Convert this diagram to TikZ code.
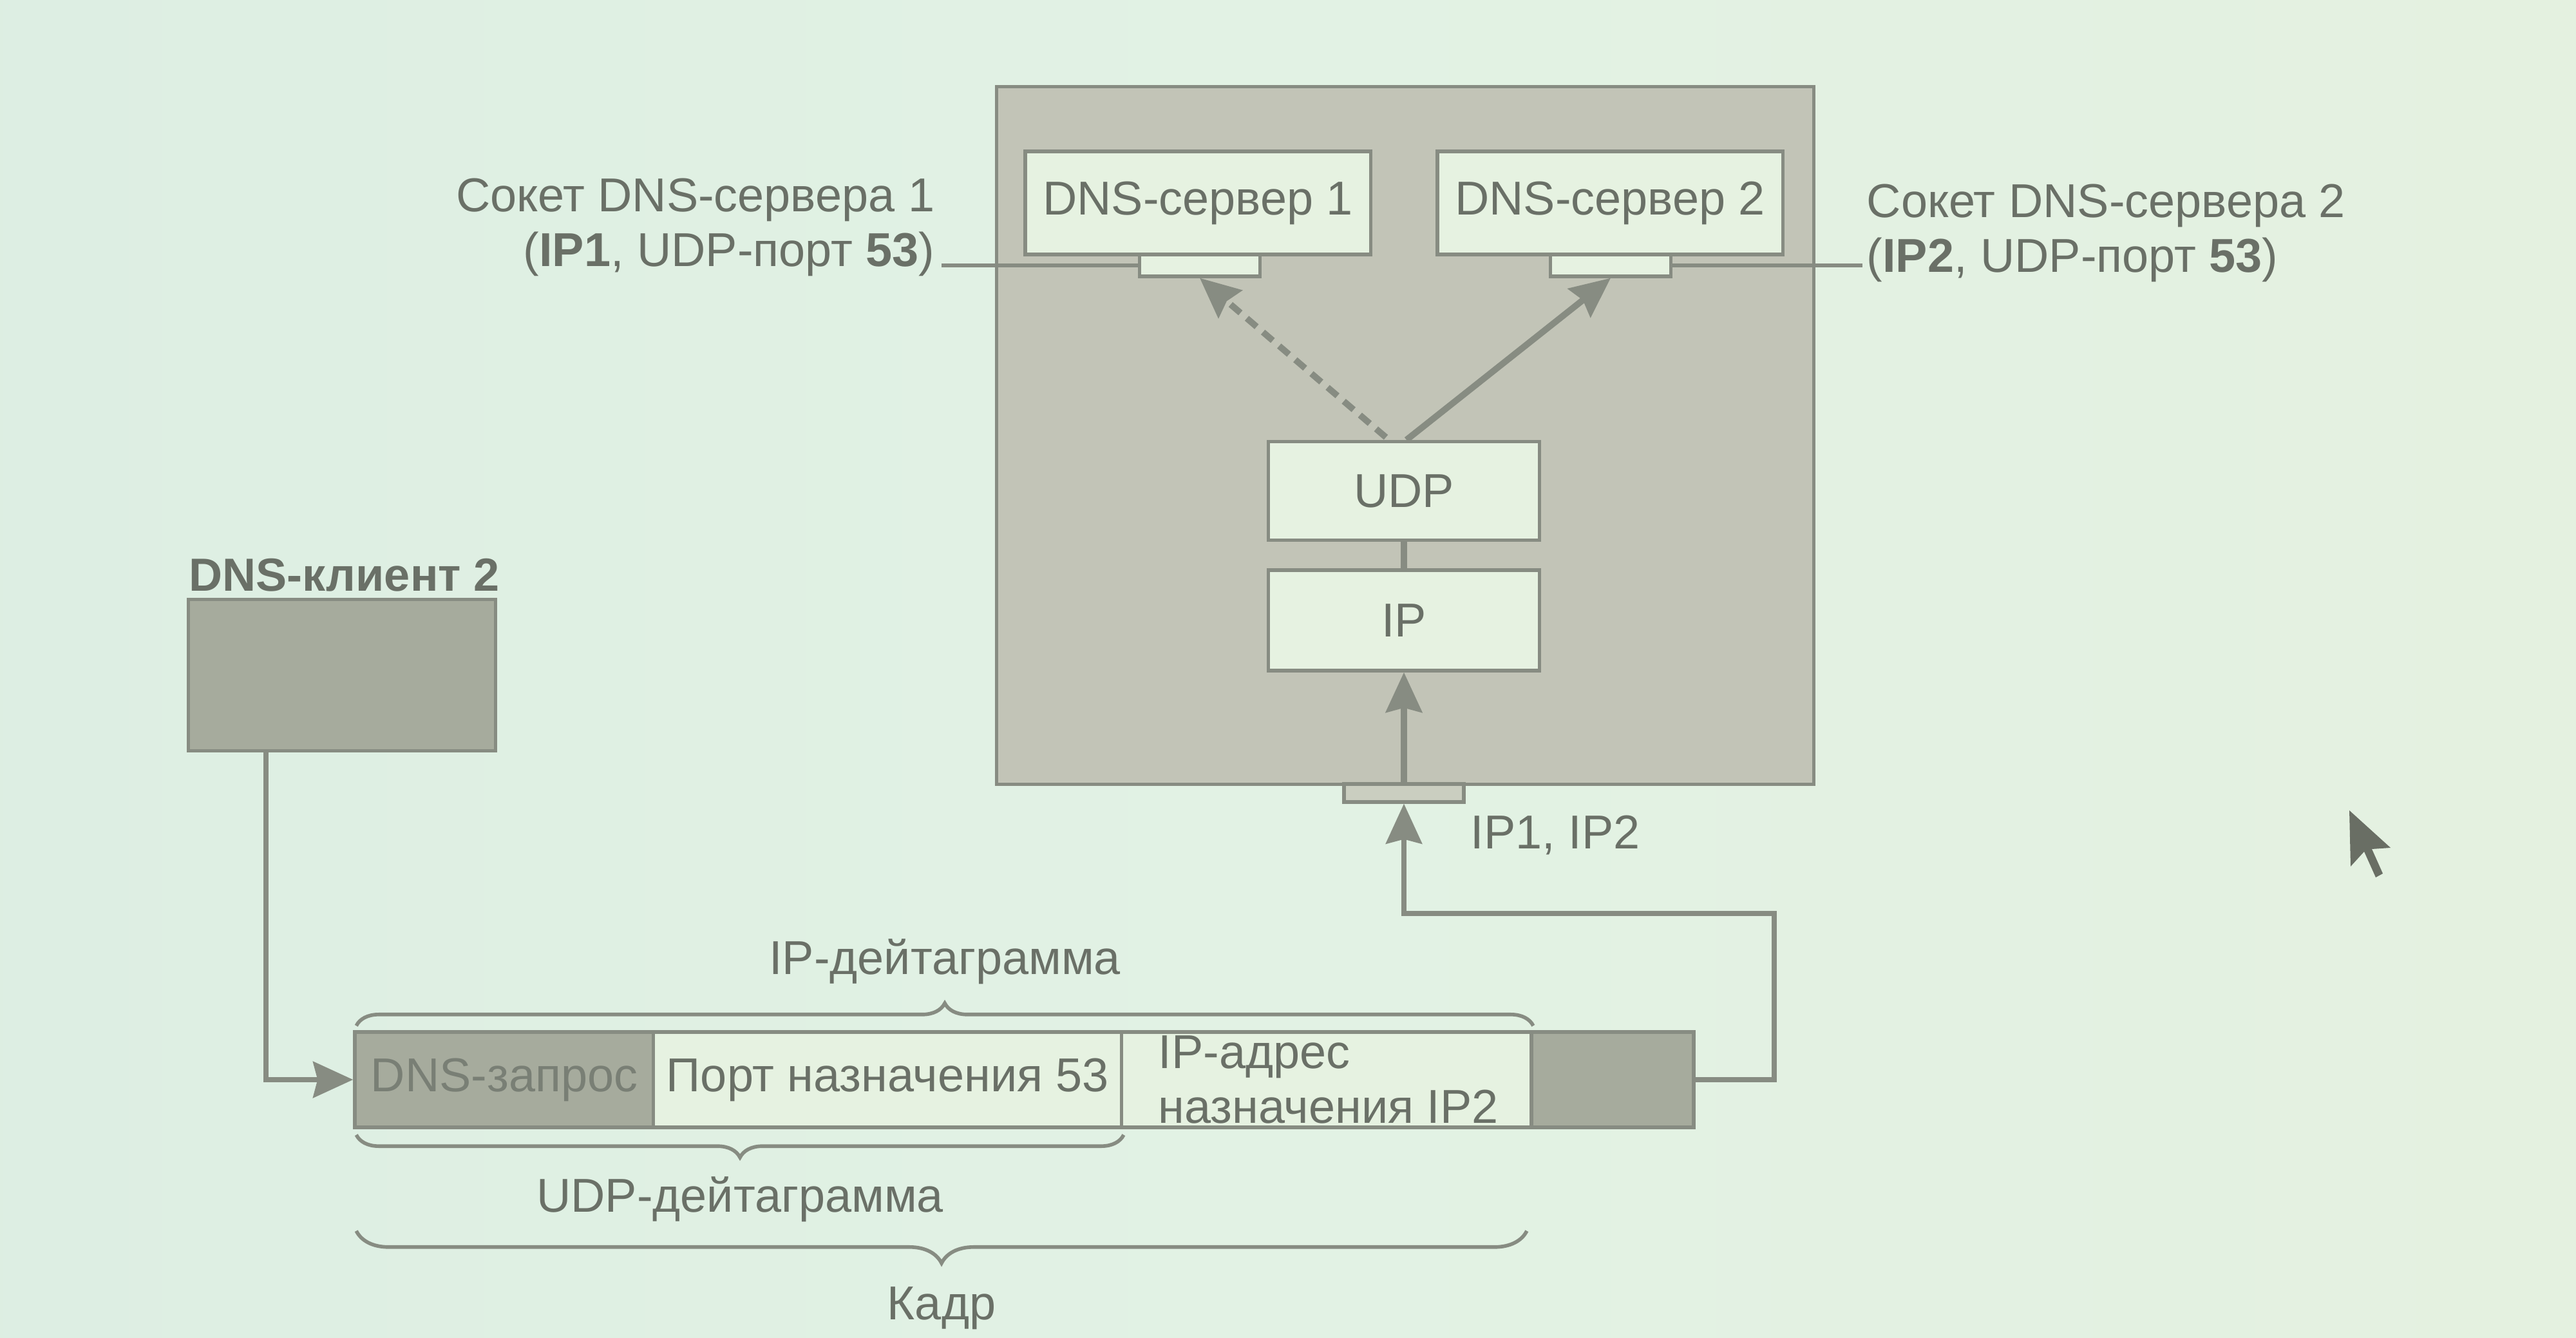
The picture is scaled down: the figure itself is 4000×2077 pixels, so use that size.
\documentclass[tikz,border=0pt]{standalone}
\usepackage{fontspec}
\setmainfont{Liberation Sans}
\usetikzlibrary{arrows.meta,decorations.pathreplacing}
\definecolor{bgl}{RGB}{216,234,225}
\definecolor{bgm}{RGB}{226,242,228}
\definecolor{bgr}{RGB}{230,239,220}
\definecolor{srvgray}{RGB}{194,196,183}
\definecolor{dkgray}{RGB}{166,171,157}
\definecolor{boxfill}{RGB}{230,242,225}
\definecolor{linec}{RGB}{135,140,130}
\definecolor{txtc}{RGB}{106,112,103}
\definecolor{portfill}{RGB}{202,206,192}
\definecolor{cursorc}{RGB}{105,110,100}
\pgfdeclarehorizontalshading{bgshade}{100bp}{color(0bp)=(bgl); color(50bp)=(bgm); color(100bp)=(bgr)}
\begin{document}
\begin{tikzpicture}[x=0.01cm,y=-0.01cm,
  every node/.style={font=\fontsize{21}{24}\selectfont, text=txtc},
  box/.style={draw=linec, line width=1.5pt, fill=boxfill, inner sep=0pt},
  darkbox/.style={draw=linec, line width=1.5pt, fill=dkgray, inner sep=0pt},
  tip/.style={-{Stealth[length=0.62cm,width=0.56cm,inset=0.07cm]}},
  arr/.style={draw=linec, line width=2.8pt, tip},
  conn/.style={draw=linec, line width=1.6pt},
  brc/.style={decorate, decoration={brace, amplitude=0.35cm}, draw=linec, line width=1.6pt},
  lbl/.style={inner sep=0pt}
]
\useasboundingbox (0,0) rectangle (4000,2077);
\shade[shading=bgshade] (0,0) rectangle (4000,2077);

% server host
\node[draw=linec, line width=1.5pt, fill=srvgray, minimum width=12.68cm, minimum height=10.82cm, inner sep=0pt] (srv) at (2182,676) {};
\node[box, minimum width=5.36cm, minimum height=1.6cm] (dns1) at (1860,315) {DNS-сервер 1};
\node[box, minimum width=5.36cm, minimum height=1.6cm] (dns2) at (2500,315) {DNS-сервер 2};
\node[box, minimum width=1.87cm, minimum height=0.34cm] (sock1) at (1863,412) {};
\node[box, minimum width=1.87cm, minimum height=0.34cm] (sock2) at (2501,412) {};
\node[box, minimum width=4.21cm, minimum height=1.53cm] (udp) at (2180,762) {UDP};
\node[box, minimum width=4.21cm, minimum height=1.56cm] (ip) at (2180,963) {IP};
\node[draw=linec, line width=1.5pt, fill=portfill, minimum width=1.86cm, minimum height=0.28cm, inner sep=0pt] (port) at (2180,1231) {};

% socket labels
\node[lbl, align=right, anchor=east] (lab1) at (1452,353) {Сокет DNS-сервера 1\\(\textbf{IP1}, UDP-порт \textbf{53})};
\node[lbl, align=left, anchor=west] (lab2) at (2898,362) {Сокет DNS-сервера 2\\(\textbf{IP2}, UDP-порт \textbf{53})};
\draw[conn] ([xshift=0.1cm]lab1.east |- sock1.west) -- (sock1.west);
\draw[conn] (sock2.east) -- ([xshift=-0.06cm]sock2.east -| lab2.west);

% internal arrows
\draw[arr, dash pattern=on 0.2cm off 0.13cm] ([xshift=-0.28cm,yshift=0.04cm]udp.north) -- (sock1.south);
\draw[arr] ([xshift=0.04cm]udp.north) -- (sock2.south);
\draw[draw=linec, line width=2.8pt] (ip.north) -- (udp.south);
\draw[arr] (port.north) -- (ip.south);

% client
\node[lbl, anchor=west, font=\bfseries\fontsize{20.5}{24}\selectfont] (clab) at (293,893) {DNS-клиент 2};
\node[darkbox, minimum width=4.77cm, minimum height=2.35cm] (client) at (531,1048) {};

% frame
\node[darkbox, minimum width=4.64cm, minimum height=1.48cm, text=txtc!75!dkgray] (seg1) at (783,1676) {DNS-запрос};
\node[box, minimum width=7.27cm, minimum height=1.48cm] (seg2) at (1378.5,1676) {Порт назначения 53};
\node[box, minimum width=6.36cm, minimum height=1.48cm] (seg3) at (2060,1676) {};
\node[lbl, align=left, anchor=west] (seg3t) at (1798,1676) {IP-адрес\\назначения IP2};
\node[darkbox, minimum width=2.52cm, minimum height=1.48cm] (seg4) at (2504,1676) {};

% connectors
\draw[conn, line width=2.2pt, tip] ([xshift=1.23cm]client.south west) |- (seg1.west);
\coordinate (turn) at (2755,1418);
\draw[arr, line width=2.2pt] (seg4.east) -| (turn) -| (port.south);
\node[lbl, anchor=west] (iplab) at (2283,1296) {IP1, IP2};

% braces
\draw[brc] ([xshift=0.05cm,yshift=0.07cm]seg1.north west) -- ([yshift=0.07cm]seg3.north east) node[midway, lbl, yshift=1.0cm] (ipd) {IP-дейтаграмма};
\draw[brc] ([yshift=-0.09cm]seg2.south east) -- ([xshift=0.05cm,yshift=-0.09cm]seg1.south west) node[midway, lbl, yshift=-1.0cm] (udpd) {UDP-дейтаграмма};
\draw[brc, decoration={brace, amplitude=0.5cm}] ([xshift=-0.1cm,yshift=-1.58cm]seg3.south east) -- ([xshift=0.05cm,yshift=-1.58cm]seg1.south west) node[midway, lbl, yshift=-1.2cm] (kadr) {Кадр};

% mouse pointer
\fill[cursorc] (3648,1258) -- (3650,1345) -- (3671,1322) -- (3689,1362) -- (3700,1356) -- (3683,1318) -- (3712,1316) -- cycle;
\end{tikzpicture}
\end{document}
